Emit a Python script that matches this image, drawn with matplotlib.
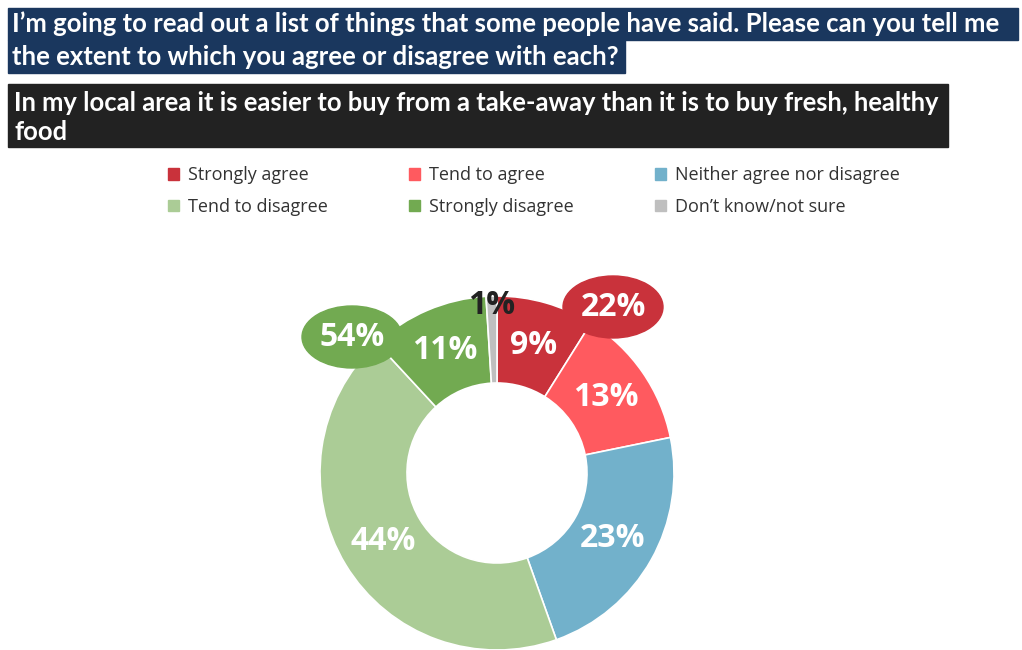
import matplotlib.pyplot as plt
from matplotlib.patches import Rectangle, Ellipse, Patch
import numpy as np

# survey answers
labels = ["Strongly agree", "Tend to agree", "Neither agree nor disagree",
          "Tend to disagree", "Strongly disagree", "Don\u2019t know/not sure"]
values = [9, 13, 23, 44, 11, 1]
colors = ["#C9323B", "#FF5A5F", "#72B1CB", "#ABCC96", "#72AA51", "#BFBFBF"]

# net totals shown in the bubbles
net_labels = ["22%", "54%"]
net_colors = ["#C9323B", "#72AA51"]

question = ("I\u2019m going to read out a list of things that some people have said. Please can you tell me",
            "the extent to which you agree or disagree with each?")
statement = ("In my local area it is easier to buy from a take-away than it is to buy fresh, healthy",
             "food")

W, H = 1022, 650
fig = plt.figure(figsize=(W / 100, H / 100), dpi=100)
ax = fig.add_axes([0, 0, 1, 1])

# donut (pixel coordinates, y measured upward)
cx, cy, R, hole = 497, H - 473, 177, 90
wedges, _ = ax.pie(values, colors=colors, startangle=90, counterclock=False,
                   center=(cx, cy), radius=R, frame=True,
                   wedgeprops=dict(width=R - hole, edgecolor="white", linewidth=1.2))
ax.set_xlim(0, W)
ax.set_ylim(0, H)
ax.axis("off")

# slice labels at mid ring
fr = np.cumsum([0] + values) / sum(values)
for i, v in enumerate(values):
    mid = 90 - 360 * (fr[i] + fr[i + 1]) / 2
    r = 133 if v > 2 else 168
    x = cx + r * np.cos(np.radians(mid))
    y = cy + r * np.sin(np.radians(mid))
    c = "white" if v > 2 else "#222222"
    ax.text(x, y, f"{v}%", color=c, ha="center", va="center",
            fontsize=23, fontweight="bold", family="Open Sans")

# net bubbles
for (bx, by), t, c in zip([(613, H - 307), (352, H - 337)], net_labels, net_colors):
    ax.add_patch(Ellipse((bx, by), 100, 62, color=c, zorder=5))
    ax.text(bx, by, t, color="white", ha="center", va="center",
            fontsize=23, fontweight="bold", family="Open Sans", zorder=6)

# header bars
ax.add_patch(Rectangle((8, H - 40), 1010, 32, color="#1A375E", zorder=3))
ax.add_patch(Rectangle((8, H - 73), 617, 33, color="#1A375E", zorder=3))
ax.text(12, H - 24, question[0], color="white", fontsize=18.5, fontweight="bold",
        family="Lato", va="center", zorder=4)
ax.text(12, H - 57, question[1], color="white", fontsize=18.5, fontweight="bold",
        family="Lato", va="center", zorder=4)

ax.add_patch(Rectangle((8, H - 147), 940, 63, color="#222222", zorder=3))
ax.text(14, H - 103, statement[0], color="white", fontsize=18.4, fontweight="bold",
        family="Lato", va="center", zorder=4)
ax.text(14, H - 132, statement[1], color="white", fontsize=18.4, fontweight="bold",
        family="Lato", va="center", zorder=4)

# legend, filled row by row
order = [0, 3, 1, 4, 2, 5]
handles = [Patch(color=colors[i], label=labels[i]) for i in order]
leg = fig.legend(handles=handles, ncol=3, loc="upper left", bbox_to_anchor=(152 / W, 1 - 150 / H),
                 frameon=False, prop=dict(family="Open Sans", size=13),
                 handlelength=0.6, handleheight=0.6, handletextpad=0.5,
                 columnspacing=4.5, labelspacing=0.75)
for t in leg.get_texts():
    t.set_color("#333333")

fig.savefig("out.png", dpi=100)
